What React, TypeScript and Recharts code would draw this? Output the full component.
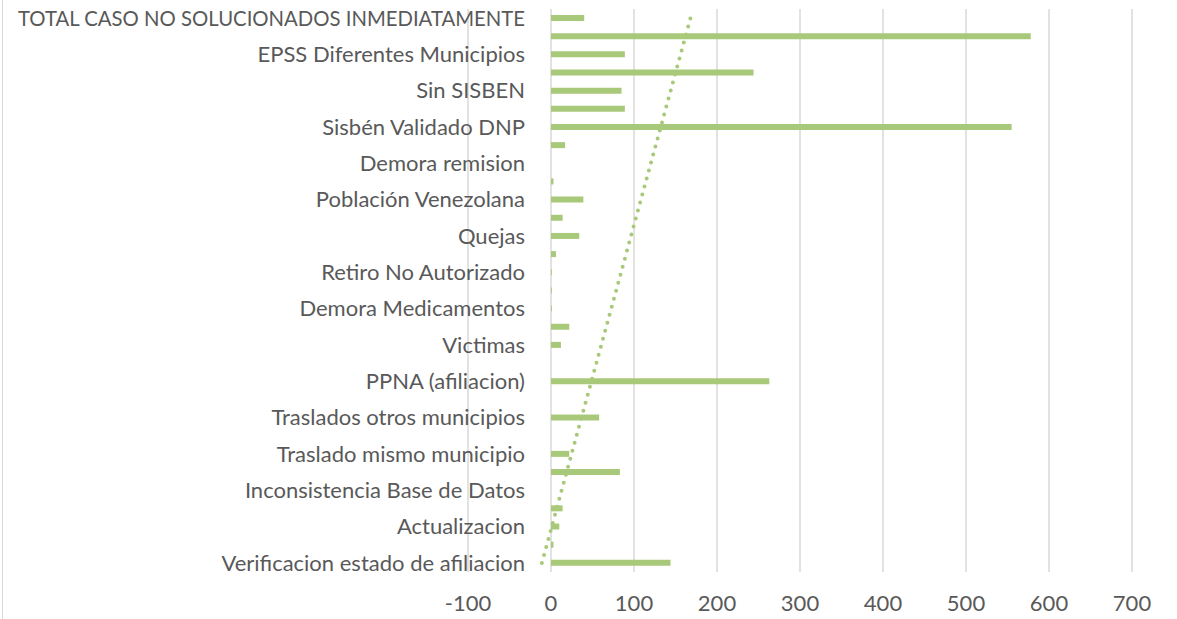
import { Bar, BarChart, CartesianGrid, ReferenceLine, XAxis, YAxis } from 'recharts';

// categories top to bottom (only every other name is shown on the axis)
const categories = [
  'TOTAL CASO NO SOLUCIONADOS INMEDIATAMENTE',
  'Casos sin etiqueta 1',
  'EPSS Diferentes Municipios',
  'Casos sin etiqueta 2',
  'Sin SISBEN',
  'Casos sin etiqueta 3',
  'Sisbén Validado DNP',
  'Casos sin etiqueta 4',
  'Demora remision',
  'Casos sin etiqueta 5',
  'Población Venezolana',
  'Casos sin etiqueta 6',
  'Quejas',
  'Casos sin etiqueta 7',
  'Retiro No Autorizado',
  'Casos sin etiqueta 8',
  'Demora Medicamentos',
  'Casos sin etiqueta 9',
  'Victimas',
  'Casos sin etiqueta 10',
  'PPNA (afiliacion)',
  'Casos sin etiqueta 11',
  'Traslados otros municipios',
  'Casos sin etiqueta 12',
  'Traslado mismo municipio',
  'Casos sin etiqueta 13',
  'Inconsistencia Base de Datos',
  'Casos sin etiqueta 14',
  'Actualizacion',
  'Casos sin etiqueta 15',
  'Verificacion estado de afiliacion',
];

const casos = [
  40, 578, 89, 244, 85, 89, 555, 17, 0, 3, 39, 14, 34, 6, 1, 1,
  1, 22, 12, 0, 263, 0, 58, 0, 22, 83, 0, 14, 10, 3, 144,
];

const xTicks = [-100, 0, 100, 200, 300, 400, 500, 600, 700];

// linear trendline, value at the bottom category and at the top category
const trendline = [-11, 168];

const data = categories.map((name, i) => ({ name, casos: casos[i] }));

const GREEN = '#a9c97a';
const GREY = '#595959';
const FONT = 'Lato, sans-serif';

function CategoryTick({ x, y, payload }: any) {
  // the long all-caps label is squeezed a little, Calibri caps are narrower than Lato's
  const squeeze = payload.value === categories[0] ? { textLength: 507, lengthAdjust: 'spacingAndGlyphs' } : {};
  return (
    <text
      x={x + 57}
      y={y}
      dy="0.35em"
      textAnchor="end"
      fill={GREY}
      fontSize={22}
      fontFamily={FONT}
      {...squeeze}
    >
      {payload.value}
    </text>
  );
}

export default function App() {
  return (
    <div style={{ position: 'absolute', left: 0, top: 0, width: 1177, height: 619, background: '#fff' }}>
      <div style={{ position: 'absolute', left: 2, top: 0, height: 619, borderLeft: '1px solid #d9d9d9' }} />
      <BarChart
        width={1177}
        height={619}
        data={data}
        layout="vertical"
        margin={{ top: 9, right: 45, bottom: 17, left: 8 }}
      >
        <CartesianGrid horizontal={false} stroke="#d9d9d9" strokeWidth={1.5} />
        <XAxis
          type="number"
          domain={[-100, 700]}
          ticks={xTicks}
          axisLine={false}
          tickLine={false}
          tickSize={0}
          tickMargin={23}
          tick={{ fill: GREY, fontSize: 22, fontFamily: FONT }}
        />
        <YAxis
          type="category"
          dataKey="name"
          width={460}
          interval={1}
          axisLine={false}
          tickLine={false}
          tickSize={0}
          tickMargin={0}
          tick={<CategoryTick />}
        />
        <Bar dataKey="casos" fill={GREEN} barSize={6} isAnimationActive={false} />
        <ReferenceLine
          segment={[
            { x: trendline[0], y: categories[categories.length - 1] },
            { x: trendline[1], y: categories[0] },
          ]}
          stroke={GREEN}
          strokeWidth={4}
          strokeDasharray="0 8.3"
          strokeLinecap="round"
        />
      </BarChart>
    </div>
  );
}
